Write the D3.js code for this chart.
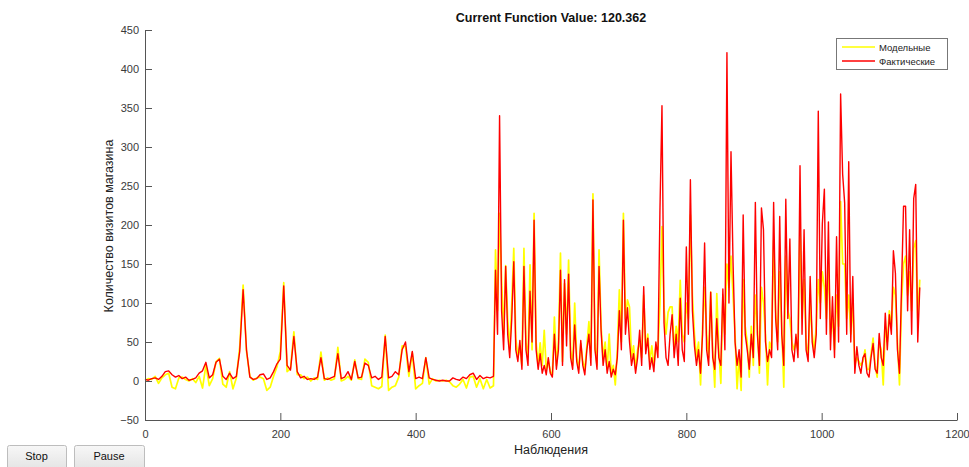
<!DOCTYPE html>
<html>
<head>
<meta charset="utf-8">
<script src="https://d3js.org/d3.v7.min.js"></script>
<style>
  body { margin: 0; background: #fff; }
  svg { display: block; font-family: "Liberation Sans", Arial, Helvetica, sans-serif; }
  .axis path, .axis line { stroke: #555; }
  .axis text { fill: #3a3a3a; font-size: 11px; }
</style>
</head>
<body>
<svg id="chart" width="969" height="467"></svg>
<script>
// observation numbers: every 5th in the quiet part, every 3rd after the jump
var obsLow = d3.range(0, 516, 5);
var obsHigh = d3.range(518, 1146, 3);

// actual visits (Фактические), obs 0..515
var factLow = [
  2, 1, 3, 4, 2, 6, 12, 13, 8, 5,
  7, 3, 5, 1, 2, 4, 10, 13, 24, 4,
  8, 24, 28, 6, 2, 10, 3, 6, 38, 117,
  40, 5, 2, 3, 8, 9, 2, 4, 12, 22,
  28, 122, 20, 14, 57, 12, 4, 6, 2, 3,
  2, 5, 30, 3, 2, 4, 6, 35, 3, 5,
  12, 2, 25, 4, 5, 23, 20, 4, 6, 2,
  5, 57, 4, 6, 12, 8, 40, 50, 12, 38,
  3, 5, 3, 30, 4, 2, 1, 0, 1, 0,
  0, 4, 2, 1, 5, 3, 8, 10, 2, 7,
  3, 5, 4, 6
];

// actual visits (Фактические), obs 518..1145
var factHigh = [
  142, 60, 340, 90, 40, 147, 60, 30, 80, 153,
  40, 25, 52, 15, 147, 40, 20, 115, 50, 206,
  40, 15, 35, 10, 20, 8, 30, 10, 5, 60,
  15, 40, 142, 20, 130, 45, 137, 30, 15, 72,
  25, 10, 52, 20, 8, 40, 60, 20, 232, 40,
  15, 147, 65, 20, 40, 10, 25, 5, 15, 8,
  30, 90, 40, 206, 60, 94, 50, 20, 35, 10,
  30, 65, 20, 121, 35, 55, 15, 30, 12, 50,
  30, 219, 353, 75, 30, 20, 60, 85, 30, 60,
  20, 106, 40, 25, 172, 60, 258, 90, 45, 20,
  40, 10, 60, 177, 40, 20, 114, 30, 15, 80,
  30, 20, 118, 40, 421, 100, 294, 153, 50, 20,
  40, 5, 213, 60, 40, 15, 60, 30, 229, 60,
  20, 222, 194, 50, 25, 40, 30, 229, 80, 40,
  211, 60, 20, 233, 80, 182, 40, 25, 60, 30,
  276, 60, 194, 40, 25, 134, 50, 30, 60, 346,
  80, 202, 246, 60, 204, 40, 108, 30, 185, 50,
  368, 265, 228, 60, 281, 50, 134, 10, 44, 20,
  10, 30, 35, 10, 5, 30, 48, 15, 10, 61,
  30, 20, 87, 40, 85, 60, 167, 138, 40, 10,
  120, 224, 224, 90, 194, 60, 234, 252, 50, 120
];

// model output (Модельные), obs 0..515
var modelLow = [
  1, 3, 2, 6, -3, 4, 8, 10, -8, -10,
  4, 5, 2, 0, 3, -2, 6, -9, 20, -6,
  3, 25, 29, -4, -8, 12, -10, 4, 44, 123,
  38, 6, 1, 4, 5, 3, -12, -8, 6, 18,
  38, 126, 12, 16, 63, 8, 8, 3, 5, 0,
  4, 2, 37, 1, 4, 1, 3, 43, 0, 2,
  6, 1, 27, 3, 2, 28, 24, -6, -8, -10,
  -7, 59, -12, -8, -6, 5, 45, 44, 6, 36,
  -10, -6, -3, 30, -4, 3, 0, 1, 0, 1,
  -1, -6, -8, -4, 2, -9, 5, 6, -8, 3,
  -10, 2, -9, -6
];

// model output (Модельные), obs 518..1145
var modelHigh = [
  168, 90, 215, 130, 60, 148, 80, 40, 100, 170,
  55, 30, 45, 20, 170, 50, 30, 149, 40, 215,
  50, 20, 49, 20, 65, 15, 25, 12, 8, 82,
  20, 50, 164, 25, 125, 60, 155, 40, 20, 100,
  30, 15, 48, 25, 15, 45, 76, 30, 240, 45,
  20, 168, 70, 30, 50, 15, 60, 10, 20, -5,
  40, 117, 50, 215, 80, 104, 95, 30, 45, 15,
  40, 50, 30, 110, 40, 60, 25, 45, 20, 45,
  40, 98, 198, 95, 60, 88, 95, 95, 40, 70,
  50, 129, 60, 50, 100, 80, 213, 110, 60, 30,
  50, -5, 70, 120, 60, 30, 114, 40, -8, 112,
  40, -3, 110, 60, 150, 120, 160, 110, 60, -10,
  30, -12, 130, 70, 50, 5, 70, 20, 110, 70,
  10, 120, 100, 60, -5, 50, 40, 180, 90, 50,
  140, 70, -8, 160, 90, 80, 50, 40, 50, 40,
  200, 80, 130, 50, 30, 100, 60, 40, 70, 130,
  100, 140, 120, 80, 150, 60, 80, 40, 110, 70,
  230, 150, 150, 80, 110, 60, 100, 20, 30, 25,
  20, 25, 40, 15, 15, 35, 55, 20, 5, 50,
  40, -5, 70, 50, 90, 70, 120, 110, 50, -5,
  100, 150, 160, 110, 140, 90, 170, 180, 80, 130
];

var xTicks = [0, 200, 400, 600, 800, 1000, 1200];
var yTicks = [-50, 0, 50, 100, 150, 200, 250, 300, 350, 400, 450];

var svg = d3.select("#chart"),
    margin = {top: 30, right: 12, bottom: 47, left: 145},
    width = +svg.attr("width") - margin.left - margin.right,
    height = +svg.attr("height") - margin.top - margin.bottom;

var x = d3.scaleLinear().domain([0, 1200]).range([margin.left, margin.left + width]);
var y = d3.scaleLinear().domain([-50, 450]).range([margin.top + height, margin.top]);

var obs = obsLow.concat(obsHigh);
var fact = factLow.concat(factHigh);
var model = modelLow.concat(modelHigh);

var rowsModel = obs.map(function(o, i) { return {o: o, v: model[i]}; });
var rowsFact = obs.map(function(o, i) { return {o: o, v: fact[i]}; });

var line = d3.line()
    .x(function(d) { return x(d.o); })
    .y(function(d) { return y(d.v); });

svg.append("path")
    .datum(rowsModel)
    .attr("fill", "none")
    .attr("stroke", "#ffff00")
    .attr("stroke-width", 1.7)
    .attr("stroke-linejoin", "round")
    .attr("d", line);

svg.append("path")
    .datum(rowsFact)
    .attr("fill", "none")
    .attr("stroke", "#ff0000")
    .attr("stroke-width", 1.4)
    .attr("stroke-linejoin", "round")
    .attr("d", line);

// axes (ticks point inward, like MATLAB)
svg.append("g")
    .attr("class", "axis")
    .attr("transform", "translate(0," + (margin.top + height) + ")")
    .call(d3.axisBottom(x).tickValues(xTicks).tickFormat(d3.format("d"))
      .tickSizeInner(-7).tickSizeOuter(0).tickPadding(10));

svg.append("g")
    .attr("class", "axis")
    .attr("transform", "translate(" + margin.left + ",0)")
    .call(d3.axisLeft(y).tickValues(yTicks).tickFormat(d3.format("d"))
      .tickSizeInner(-7).tickSizeOuter(0).tickPadding(6));

// title
svg.append("text")
    .attr("x", 551)
    .attr("y", 22)
    .attr("text-anchor", "middle")
    .attr("font-size", "12.5px")
    .attr("font-weight", "bold")
    .attr("fill", "#111")
    .text("Current Function Value: 120.362");

// x axis label
svg.append("text")
    .attr("x", 551)
    .attr("y", 454)
    .attr("text-anchor", "middle")
    .attr("font-size", "12.5px")
    .attr("fill", "#222")
    .text("Наблюдения");

// y axis label
svg.append("text")
    .attr("transform", "translate(113,226) rotate(-90)")
    .attr("text-anchor", "middle")
    .attr("font-size", "12.5px")
    .attr("fill", "#222")
    .text("Количество визитов магазина");

// legend
var legend = svg.append("g");
legend.append("rect")
    .attr("x", 836.5).attr("y", 38.5)
    .attr("width", 111).attr("height", 31)
    .attr("fill", "#fff")
    .attr("stroke", "#777");

var items = [{name: "Модельные", color: "#ffff00"}, {name: "Фактические", color: "#ff0000"}];
items.forEach(function(it, i) {
  var ly = 47 + i * 14;
  legend.append("line")
      .attr("x1", 842).attr("x2", 875)
      .attr("y1", ly).attr("y2", ly)
      .attr("stroke", it.color)
      .attr("stroke-width", 1.5);
  legend.append("text")
      .attr("x", 879).attr("y", ly + 3.5)
      .attr("font-size", "9.5px")
      .attr("fill", "#222")
      .text(it.name);
});

// Stop / Pause buttons
var buttons = [{label: "Stop", x: 7, w: 59}, {label: "Pause", x: 74, w: 70}];
var grad = svg.append("defs").append("linearGradient")
    .attr("id", "btn").attr("x1", 0).attr("x2", 0).attr("y1", 0).attr("y2", 1);
grad.append("stop").attr("offset", "0%").attr("stop-color", "#f7f7f7");
grad.append("stop").attr("offset", "100%").attr("stop-color", "#e4e4e4");
buttons.forEach(function(b) {
  svg.append("rect")
      .attr("x", b.x + 0.5).attr("y", 445.5)
      .attr("width", b.w).attr("height", 24)
      .attr("rx", 2)
      .attr("fill", "url(#btn)")
      .attr("stroke", "#bdbdbd");
  svg.append("text")
      .attr("x", b.x + b.w / 2).attr("y", 460)
      .attr("text-anchor", "middle")
      .attr("font-size", "11px")
      .attr("fill", "#111")
      .text(b.label);
});
</script>
</body>
</html>
